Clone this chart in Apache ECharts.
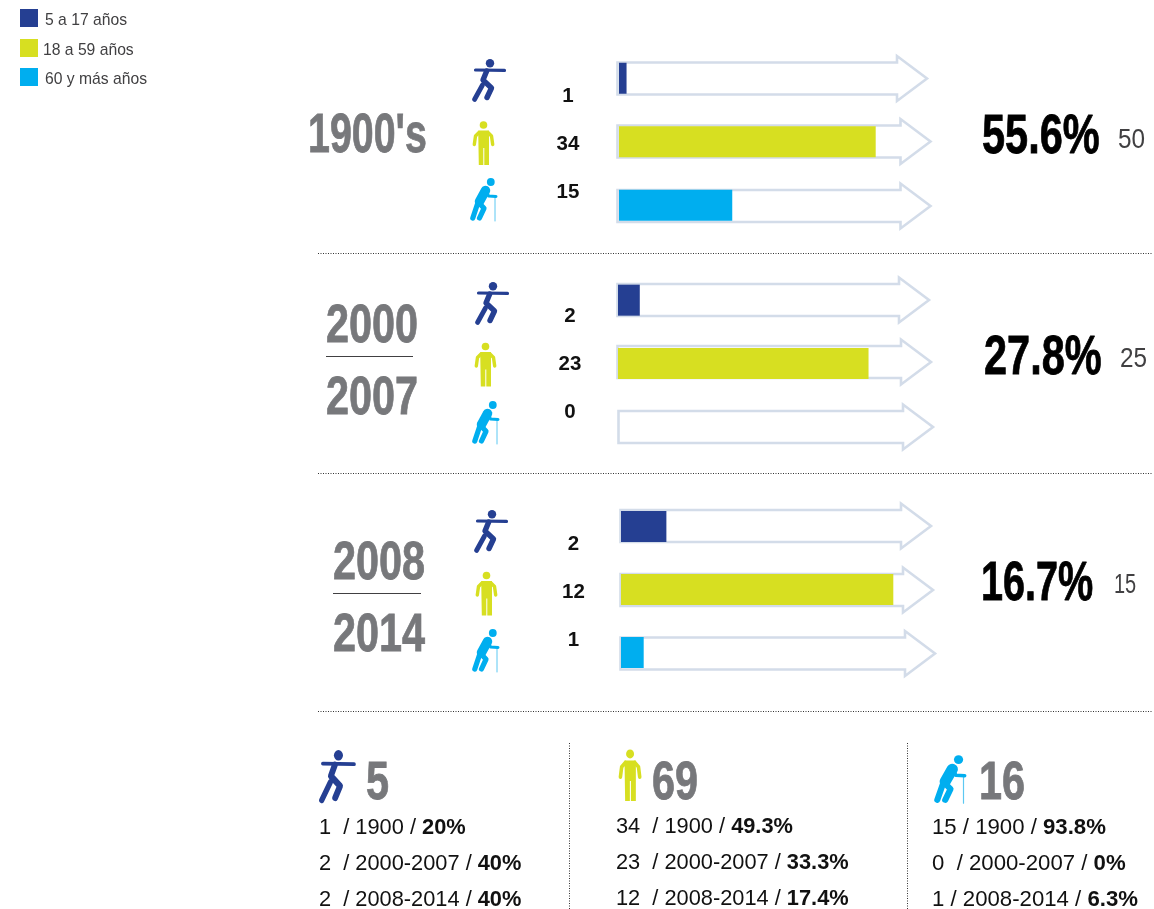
<!DOCTYPE html>
<html>
<head>
<meta charset="utf-8">
<style>html,body{margin:0;padding:0;background:#fff}#c{width:1154px;height:909px}</style>
<script src="https://cdn.jsdelivr.net/npm/echarts@6/dist/echarts.min.js"></script>
</head>
<body>
<div id="c"></div>
<script>
const ageGroups = ['5 a 17 años', '18 a 59 años', '60 y más años'];
const periods = ["1900's", '2000-2007', '2008-2014'];
const shortPeriods = ['1900', '2000-2007', '2008-2014'];
const children = [1, 2, 2];
const adults = [34, 23, 12];
const elders = [15, 0, 1];
const periodTotals = [50, 25, 15];
const periodShares = ['55.6%', '27.8%', '16.7%'];
const groupTotals = [5, 69, 16];
const childShares = ['20%', '40%', '40%'];
const adultShares = ['49.3%', '33.3%', '17.4%'];
const elderShares = ['93.8%', '0%', '6.3%'];

const NAVY = '#253f92', LIME = '#d7df21', SKY = '#00aeef';
const GREY = '#77787b', TRACK = '#d3dce9';
const colors = [NAVY, LIME, SKY];
const byGroup = [children, adults, elders];
const shares = [childShares, adultShares, elderShares];

const chart = echarts.init(document.getElementById('c'), null, {renderer: 'canvas'});

/* ---- panels: each has its own bar scale ---- */
const panels = [
  {top: 46.5, height: 190.5, left: 619, width: 302, max: 40,
   arrows: [[617.5, 927, 78.5], [617.5, 930.5, 141.5], [617.5, 930.5, 206]]},
  {top: 268.5, height: 190, left: 618, width: 305, max: 28,
   arrows: [[617.5, 929, 300], [617.5, 931, 362], [618.5, 933, 427]]},
  {top: 495, height: 189, left: 621, width: 295, max: 13,
   arrows: [[620.5, 931, 526], [620.5, 933, 590], [620.5, 935, 653.5]]}
];

const grid = [], xAxis = [], yAxis = [], series = [];
panels.forEach((p, i) => {
  grid.push({left: p.left, top: p.top, width: p.width, height: p.height, containLabel: false});
  xAxis.push({gridIndex: i, type: 'value', min: 0, max: p.max, show: false});
  yAxis.push({gridIndex: i, type: 'category', inverse: true, data: ageGroups, show: false});
  ageGroups.forEach((g, k) => {
    series.push({
      name: g, type: 'bar', xAxisIndex: i, yAxisIndex: i,
      barWidth: 31, barGap: '-100%', silent: true,
      itemStyle: {color: colors[k]},
      data: ageGroups.map((_, r) => r === k ? byGroup[k][i] : null)
    });
  });
});

/* ---- drawing helpers ---- */
const g = [];
function arrow(x0, tip, cy) {
  const hx = tip - 30;
  g.push({type: 'polygon', z: 0, silent: true,
    shape: {points: [[x0, cy - 16], [hx, cy - 16], [hx, cy - 22.5], [tip, cy], [hx, cy + 22.5], [hx, cy + 16], [x0, cy + 16]]},
    style: {fill: 'none', stroke: TRACK, lineWidth: 2.6}});
}
function seg(points, w, color) {
  return {type: 'polyline', shape: {points}, style: {fill: 'none', stroke: color, lineWidth: w, lineCap: 'round', lineJoin: 'round'}};
}
function head(cx, cy, r, color) {
  return {type: 'circle', shape: {cx, cy, r}, style: {fill: color}};
}
function runner(x, y, sx, sy) {
  g.push({type: 'group', x, y, scaleX: sx || 1, scaleY: sy || 1, silent: true, children: [
    head(18, 4.3, 4.2, NAVY),
    seg([[3.5, 11], [32.5, 11.4]], 3.2, NAVY),
    seg([[14.7, 12], [11, 21], [19.5, 29], [15, 38.5]], 5.4, NAVY),
    seg([[10.5, 26], [2.5, 40.5]], 4.8, NAVY)
  ]});
}
function person(x, y, sx, sy) {
  g.push({type: 'group', x, y, scaleX: sx || 1, scaleY: sy || 1, silent: true, children: [
    head(11.5, 5, 3.8, LIME),
    {type: 'polygon', shape: {points: [[6.2, 10.5], [17, 10.5], [17, 45], [12.3, 45], [12.3, 28], [11.3, 28], [11.3, 45], [6.8, 45]]}, style: {fill: LIME}},
    seg([[7, 12.5], [3.5, 16], [2.3, 24.5]], 3.4, LIME),
    seg([[16, 12.5], [19.5, 16], [20.7, 24.5]], 3.4, LIME)
  ]});
}
function elder(x, y, sx, sy) {
  g.push({type: 'group', x, y, scaleX: sx || 1, scaleY: sy || 1, silent: true, children: [
    head(20.8, 5, 3.9, SKY),
    seg([[25, 20], [25, 44]], 1, '#5cc8f2'),
    seg([[15.5, 13.5], [9.5, 24.5]], 9.5, SKY),
    seg([[16.5, 14], [18.5, 19], [26, 19.4]], 3, SKY),
    seg([[7.8, 26], [2.8, 41]], 5.2, SKY),
    seg([[10, 27], [14, 31.3], [9.5, 41]], 5.2, SKY)
  ]});
}
const NARROW = '"Liberation Sans Narrow","Liberation Sans",sans-serif';
function bigText(text, x, y, size, sx, color, weight) {
  const heavy = (weight || 'bold') === 'bold';
  g.push({type: 'text', x, y, scaleX: sx, silent: true, style: {
    text, fill: color, fontFamily: NARROW, fontSize: size, fontWeight: weight || 'bold',
    stroke: heavy ? color : null, lineWidth: heavy ? 0.8 : 0,
    align: 'left', verticalAlign: 'middle'}});
}
function rule(x1, y1, x2, y2, dotted) {
  g.push({type: 'line', silent: true, shape: {x1, y1, x2, y2},
    style: dotted ? {stroke: '#333', lineWidth: 1, lineDash: [1, 1.5]} : {stroke: '#414042', lineWidth: 1.2}});
}
function smallBold(text, x, y) {
  g.push({type: 'text', x, y, silent: true, style: {text, fill: '#111',
    fontFamily: '"Liberation Sans",Arial,sans-serif', fontSize: 20.5, fontWeight: 'bold', align: 'center', verticalAlign: 'middle'}});
}

/* arrows */
panels.forEach(p => p.arrows.forEach(a => arrow(a[0], a[1], a[2])));

/* icons */
runner(472, 59); person(472, 120); elder(470, 177);
runner(475, 282); person(474, 341.5); elder(472, 400);
runner(474, 510); person(475, 570.5); elder(472, 628);
runner(319, 750, 1.08, 1.24); person(618, 748, 1.05, 1.18); elder(934, 754, 1.18, 1.12);

/* values in the rows */
const valueXs = [568, 570, 573.5];
const valueYs = [[96, 144, 192], [316, 364, 412], [544, 592, 640]];
periods.forEach((_, i) => byGroup.forEach((arr, k) => smallBold(String(arr[i]), valueXs[i], valueYs[i][k])));

/* period titles */
bigText(periods[0], 308, 137, 56, 0.703, GREY);
const [a1, a2] = periods[1].split('-');
bigText(a1, 326, 327.5, 54, 0.767, GREY); bigText(a2, 326, 399.5, 54, 0.767, GREY);
rule(326, 356.5, 413, 356.5);
const [b1, b2] = periods[2].split('-');
bigText(b1, 333, 564.5, 54, 0.767, GREY); bigText(b2, 333, 636, 54, 0.767, GREY);
rule(333, 593.5, 421, 593.5);

/* shares and totals */
const shareAt = [[982, 137.5], [984, 359], [981, 585]];
const shareScale = [0.754, 0.754, 0.72];
const totalAt = [[1118, 141], [1120, 360], [1114, 586]];
const totalScale = [0.9, 0.9, 0.74];
periodShares.forEach((s, i) => {
  bigText(s, shareAt[i][0], shareAt[i][1], 55, shareScale[i], '#000');
  bigText(String(periodTotals[i]), totalAt[i][0], totalAt[i][1], 27, totalScale[i], '#414042', 'normal');
});

/* rules */
[253, 473, 711].forEach(y => rule(318, y + .5, 1152, y + .5, true));
[569, 907].forEach(x => rule(x + .5, 743, x + .5, 909, true));

/* bottom summaries */
const totalXs = [366, 652, 979];
const listXs = [319, 616, 932];
const listYs = [[828, 864, 900], [827, 863, 899], [828, 864, 900]];
const listSizes = [21.8, 21.8, 22.2];
groupTotals.forEach((t, k) => {
  bigText(String(t), totalXs[k], 784, 54, 0.767, GREY);
  const bodyFont = {fontFamily: '"Liberation Sans",Arial,sans-serif', fontSize: listSizes[k], fill: '#111'};
  shortPeriods.forEach((p, i) => {
    const v = byGroup[k][i];
    const spacer = (k === 2 && i !== 1) ? ' / ' : '  / ';
    g.push({type: 'text', x: listXs[k], y: listYs[k][i], silent: true, style: {
      text: '{n|' + v + spacer + p + ' / }{b|' + shares[k][i] + '}',
      verticalAlign: 'middle', align: 'left',
      rich: {n: Object.assign({}, bodyFont), b: Object.assign({fontWeight: 'bold'}, bodyFont)}}});
  });
});

/* legend: one block per group, the labels do not line up in the source */
const legendTops = [9, 39, 68];
const legendLeftPad = [2, -1, 2];
const legend = ageGroups.map((name, k) => ({
  data: [{name, icon: 'rect'}], left: 20, top: legendTops[k], padding: 0, selectedMode: false,
  itemWidth: 18, itemHeight: 18,
  formatter: '{t|{name}}',
  textStyle: {rich: {t: {fontFamily: '"Liberation Sans",Arial,sans-serif', fontSize: 15.7, color: '#414042',
    padding: [6, 0, 0, Math.max(legendLeftPad[k], 0)]}}}
}));

chart.setOption({
  animation: false, backgroundColor: '#fff',
  legend, grid, xAxis, yAxis, series, graphic: {elements: g}
});
</script>
</body>
</html>
